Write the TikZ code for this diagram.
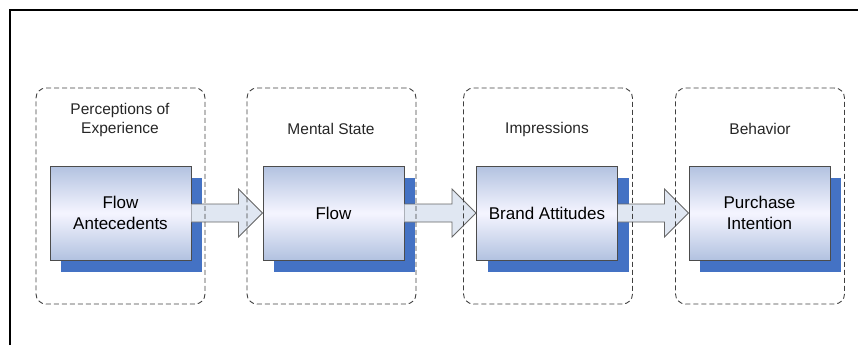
\documentclass[tikz,border=0pt]{standalone}
\usepackage{fontspec}
\setmainfont{Liberation Sans}
\usetikzlibrary{calc, shadows}
\definecolor{shadowblue}{RGB}{68,114,196}
\definecolor{boxtop}{RGB}{178,194,224}
\definecolor{arrowfill}{RGB}{224,231,242}
\begin{document}
\begin{tikzpicture}[x=1pt, y=-1pt,
    group/.style={draw=black!75, line width=0.9pt, dash pattern=on 5pt off 3pt, rounded corners=10pt, minimum width=169pt, minimum height=216pt},
    stage/.style={draw=black!70, line width=0.9pt, top color=boxtop, bottom color=boxtop, middle color=white!96!blue, minimum width=141pt, minimum height=94pt, align=center, font=\fontsize{17}{21}\selectfont,
        drop shadow={shadow xshift=11pt, shadow yshift=-12pt, fill=shadowblue, opacity=1, draw=none}},
    heading/.style={align=center, text=black!85, font=\fontsize{15.5}{19}\selectfont},
    bigarrow/.style={draw=black!60, line width=0.8pt, fill=arrowfill}]
                \useasboundingbox (0,0) rectangle (858,345);
                \draw[line width=2pt] (10,345) -- (10,10) -- (858,10);

                \node[stage] (ante) at (120.5,213) {Flow\\Antecedents};
                \node[stage] (flow) at (333.5,213) {Flow};
                \node[stage] (brand) at (547,213) {Brand Attitudes};
                \node[stage] (purch) at (759.5,213) {Purchase\\Intention};

                \draw[bigarrow] ($(ante.east)+(0,-9)$) -- ($(flow.west)+(-24,-9)$) -- ($(flow.west)+(-24,-24)$) -- (flow.west) -- ($(flow.west)+(-24,24)$) -- ($(flow.west)+(-24,9)$) -- ($(ante.east)+(0,9)$);
                \draw[bigarrow] ($(flow.east)+(0,-9)$) -- ($(brand.west)+(-24,-9)$) -- ($(brand.west)+(-24,-24)$) -- (brand.west) -- ($(brand.west)+(-24,24)$) -- ($(brand.west)+(-24,9)$) -- ($(flow.east)+(0,9)$);
                \draw[bigarrow] ($(brand.east)+(0,-9)$) -- ($(purch.west)+(-24,-9)$) -- ($(purch.west)+(-24,-24)$) -- (purch.west) -- ($(purch.west)+(-24,24)$) -- ($(purch.west)+(-24,9)$) -- ($(brand.east)+(0,9)$);

                \node[group] (g1) at (120.5,196) {};
                \node[group] (g2) at (331.5,196) {};
                \node[group] (g3) at (548,196) {};
                \node[group] (g4) at (760,196) {};

                \node[heading] (h1) at (120,119.5) {Perceptions of\\Experience};
                \node[heading] (h2) at (331,129) {Mental State};
                \node[heading] (h3) at (547,129) {Impressions};
                \node[heading] (h4) at (760,129) {Behavior};
            \end{tikzpicture}
\end{document}
